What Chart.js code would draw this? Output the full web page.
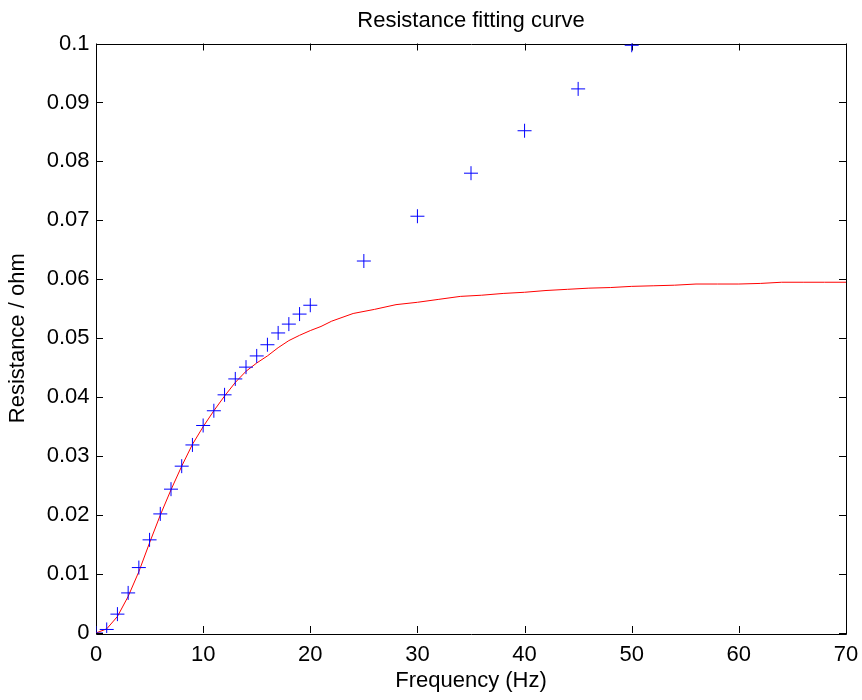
<!DOCTYPE html>
<html>
<head>
<meta charset="utf-8">
<title>Resistance fitting curve</title>
<script src="https://cdn.jsdelivr.net/npm/chart.js@4.4.1/dist/chart.umd.min.js"></script>
<style>
  html, body { margin: 0; padding: 0; background: #fff; }
  canvas { display: block; }
</style>
</head>
<body>
<canvas id="fitChart" width="862" height="700"></canvas>
<script>
// measured points (blue crosses)
const measFreq = [0, 1, 2, 3, 4, 5, 6, 7, 8, 9, 10, 11, 12, 13, 14, 15, 16, 17, 18, 19, 20, 25, 30, 35, 40, 45, 50];
const measRes = [0, 0.0006, 0.0032, 0.0068, 0.0111, 0.0158, 0.0202, 0.0244, 0.0283, 0.0319, 0.0352, 0.0377,
    0.0404, 0.0431, 0.0451, 0.0470, 0.0489, 0.0509, 0.0524, 0.0541, 0.0556,
    0.0631, 0.0707, 0.0780, 0.0852, 0.0923, 0.0997];

// fitted curve (red line)
const fitFreq = [0, 1, 2, 3, 4, 5, 6, 7, 8, 9, 10, 11, 12, 13, 14, 15, 16, 17, 18, 19, 20, 21, 22,
    24, 26, 28, 30, 32, 34, 36, 38, 40, 42, 44, 46, 48, 50, 52, 54, 56, 58, 60, 62, 64, 66, 68, 70];
const fitRes = [0, 0.0007, 0.0028, 0.0062, 0.0104, 0.0153, 0.0200, 0.0243, 0.0283, 0.0320, 0.0350, 0.0377,
    0.0402, 0.0425, 0.0444, 0.0458, 0.0470, 0.0484, 0.0496, 0.0505, 0.0513, 0.0520, 0.0529,
    0.0542, 0.0549, 0.0557, 0.0561, 0.0566, 0.0571, 0.0573, 0.0576, 0.0578, 0.0581, 0.0583,
    0.0585, 0.0586, 0.0588, 0.0589, 0.0590, 0.0592, 0.0592, 0.0592, 0.0593, 0.0595, 0.0595, 0.0595, 0.0595];

const xTicks = { min: 0, max: 70, step: 10 };
const yTicks = { min: 0, max: 0.1, step: 0.01 };

const chartTitle = 'Resistance fitting curve';
const FONT = 'Arial, "Liberation Sans", Helvetica, sans-serif';
const FONT_SIZE = 22;

// MATLAB-like box with ticks pointing inwards (drawn under the data),
// title centred over the axes
const boxPlugin = {
    id: 'matlabBox',
    beforeDatasetsDraw(chart) {
        const { ctx, chartArea: a, scales } = chart;
        const tl = 7;
        ctx.save();
        ctx.strokeStyle = '#000';
        ctx.lineWidth = 1;
        ctx.beginPath();
        ctx.rect(Math.round(a.left) + 0.5, Math.round(a.top) + 0.5,
                 Math.round(a.right - a.left), Math.round(a.bottom - a.top));
        scales.x.ticks.forEach(t => {
            const px = Math.round(scales.x.getPixelForValue(t.value)) + 0.5;
            ctx.moveTo(px, a.bottom); ctx.lineTo(px, a.bottom - tl);
            ctx.moveTo(px, a.top); ctx.lineTo(px, a.top + tl);
        });
        scales.y.ticks.forEach(t => {
            const py = Math.round(scales.y.getPixelForValue(t.value)) + 0.5;
            ctx.moveTo(a.left, py); ctx.lineTo(a.left + tl, py);
            ctx.moveTo(a.right, py); ctx.lineTo(a.right - tl, py);
        });
        ctx.stroke();

        ctx.fillStyle = '#000';
        ctx.font = FONT_SIZE + 'px ' + FONT;
        ctx.textAlign = 'center';
        ctx.textBaseline = 'alphabetic';
        ctx.fillText(chartTitle, (a.left + a.right) / 2, 26.5);
        ctx.restore();
    }
};

new Chart(document.getElementById('fitChart').getContext('2d'), {
    type: 'scatter',
    data: {
        datasets: [
            {
                label: 'Measured',
                data: measFreq.map((f, i) => ({ x: f, y: measRes[i] })),
                pointStyle: 'cross',
                pointRadius: 7,
                pointBorderWidth: 1,
                borderColor: '#0000ff',
                backgroundColor: '#0000ff',
                showLine: false
            },
            {
                label: 'Fit',
                data: fitFreq.map((f, i) => ({ x: f, y: fitRes[i] })),
                showLine: true,
                borderColor: '#ff0000',
                borderWidth: 1,
                pointRadius: 0,
                tension: 0
            }
        ]
    },
    options: {
        responsive: false,
        animation: false,
        layout: { padding: { left: 0, right: 16, top: 43.5, bottom: 0 } },
        plugins: {
            legend: { display: false },
            tooltip: { enabled: false },
            title: { display: false }
        },
        scales: {
            x: {
                type: 'linear',
                min: xTicks.min,
                max: xTicks.max,
                grid: { display: false, drawTicks: false },
                border: { display: false },
                ticks: {
                    stepSize: xTicks.step,
                    color: '#000',
                    padding: 8.5,
                    maxRotation: 0,
                    font: { family: FONT, size: FONT_SIZE }
                },
                title: {
                    display: true,
                    text: 'Frequency (Hz)',
                    color: '#000',
                    font: { family: FONT, size: FONT_SIZE },
                    padding: { top: 0, bottom: 6 }
                },
                afterFit: (scale) => {
                    scale.height = 67;
                    // keep the plot's right edge where the layout padding puts it
                    scale.paddingLeft = 0;
                    scale.paddingRight = 0;
                }
            },
            y: {
                type: 'linear',
                min: yTicks.min,
                max: yTicks.max,
                grid: { display: false, drawTicks: false },
                border: { display: false },
                ticks: {
                    stepSize: yTicks.step,
                    color: '#000',
                    padding: 6.5,
                    font: { family: FONT, size: FONT_SIZE },
                    callback: (v) => Number(v.toFixed(2)).toString()
                },
                title: {
                    display: true,
                    text: 'Resistance / ohm',
                    color: '#000',
                    font: { family: FONT, size: FONT_SIZE },
                    padding: { top: 5, bottom: 0 }
                },
                afterFit: (scale) => {
                    scale.width = 96;
                    scale.paddingTop = 0;
                    scale.paddingBottom = 0;
                }
            }
        }
    },
    plugins: [boxPlugin]
});
</script>
</body>
</html>
